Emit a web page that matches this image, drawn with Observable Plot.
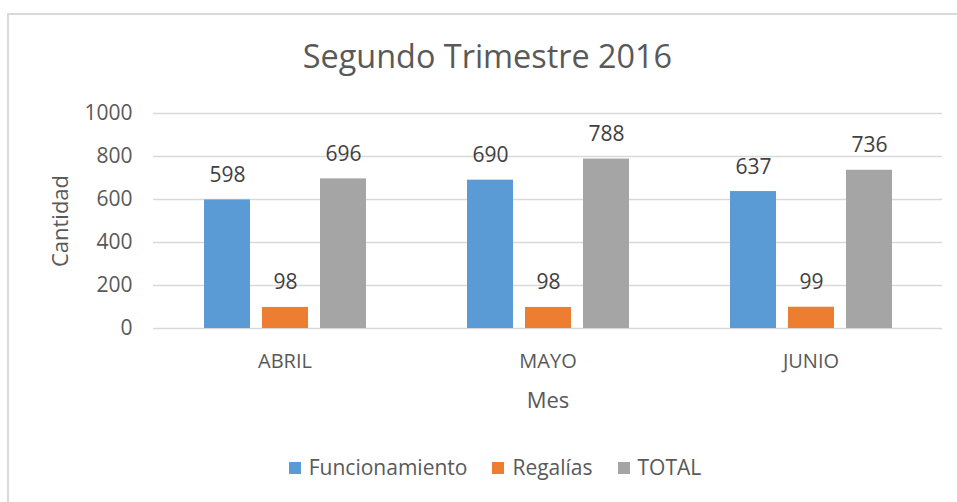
<!DOCTYPE html>
<html>
<head>
<meta charset="utf-8">
<script src="https://cdn.jsdelivr.net/npm/d3@7"></script>
<script src="https://cdn.jsdelivr.net/npm/@observablehq/plot@0.6"></script>
<style>
  html, body { margin: 0; padding: 0; background: #fff; }
  #wrap { position: relative; width: 957px; height: 502px; overflow: hidden; background: #fff; font-family: "Open Sans", Lato, sans-serif; }
  #border { position: absolute; left: 7px; top: 13px; right: -10px; bottom: -10px; border-top: 2px solid #d9d9d9; border-left: 2px solid #d9d9d9; }
  #title { position: absolute; left: 0; top: 40px; width: 975px; text-align: center; font-size: 32.4px; line-height: 31px; color: #595959; }
  #chart { position: absolute; left: 0; top: 0; }
  #legend { position: absolute; left: 0; top: 457px; width: 990px; display: flex; justify-content: center; font-size: 21px; line-height: 21px; color: #595959; }
  .item { display: flex; align-items: center; margin: 0 12.5px; }
  .sw { width: 12px; height: 12px; margin-right: 8px; margin-top: 1px; }
</style>
</head>
<body>
<div id="wrap">
  <div id="border"></div>
  <div id="title">Segundo Trimestre 2016</div>
  <div id="chart"></div>
  <div id="legend"></div>
</div>
<script>
const meses = ["ABRIL", "MAYO", "JUNIO"];
const series = ["Funcionamiento", "Regalías", "TOTAL"];
const funcionamiento = [598, 690, 637];
const regalias = [98, 98, 99];
const total = [696, 788, 736];
const yTicks = [0, 200, 400, 600, 800, 1000];
const colors = ["#5B9BD5", "#ED7D31", "#A5A5A5"];

const valores = [funcionamiento, regalias, total];
const data = [];
meses.forEach((m, i) => {
  series.forEach((s, j) => {
    data.push({mes: m, serie: s, valor: valores[j][i]});
  });
});

const font = "'Open Sans', Lato, sans-serif";
const chart = Plot.plot({
  width: 957,
  height: 440,
  marginTop: 113,
  marginBottom: 112,
  marginLeft: 153,
  marginRight: 15,
  style: {fontFamily: font, background: "transparent", overflow: "visible"},
  fx: {domain: meses, padding: 0, label: "Mes"},
  x: {domain: series, paddingInner: 0.214, paddingOuter: 0.855, axis: null},
  y: {domain: [0, 1000], label: "Cantidad"},
  color: {domain: series, range: colors},
  marks: [
    Plot.gridY(yTicks, {stroke: "#d9d9d9", strokeOpacity: 1, strokeWidth: 1.3}),
    Plot.axisY(yTicks, {tickSize: 0, tickPadding: 21, fontSize: 21, color: "#595959", label: null, tickFormat: d => String(d)}),
    Plot.axisY([], {tickSize: 0, fontSize: 22, color: "#595959", label: "Cantidad", labelAnchor: "center", labelOffset: 101, labelArrow: "none"}),
    Plot.axisFx({anchor: "bottom", tickSize: 0, tickPadding: 25, fontSize: 20, color: "#595959", label: null}),
    Plot.axisFx([], {anchor: "bottom", tickSize: 0, fontSize: 22, color: "#595959", label: "Mes", labelAnchor: "center", labelOffset: 79, labelArrow: "none"}),
    Plot.barY(data, {fx: "mes", x: "serie", y: "valor", fill: "serie"}),
    Plot.text(data, {fx: "mes", x: "serie", y: "valor", text: d => String(d.valor), dy: -18, lineAnchor: "bottom", fontSize: 21, fill: "#404040"})
  ]
});
document.getElementById("chart").appendChild(chart);

const legend = document.getElementById("legend");
series.forEach((s, j) => {
  const item = document.createElement("div");
  item.className = "item";
  const sw = document.createElement("div");
  sw.className = "sw";
  sw.style.background = colors[j];
  const t = document.createElement("span");
  t.textContent = s;
  item.appendChild(sw);
  item.appendChild(t);
  legend.appendChild(item);
});
</script>
</body>
</html>
